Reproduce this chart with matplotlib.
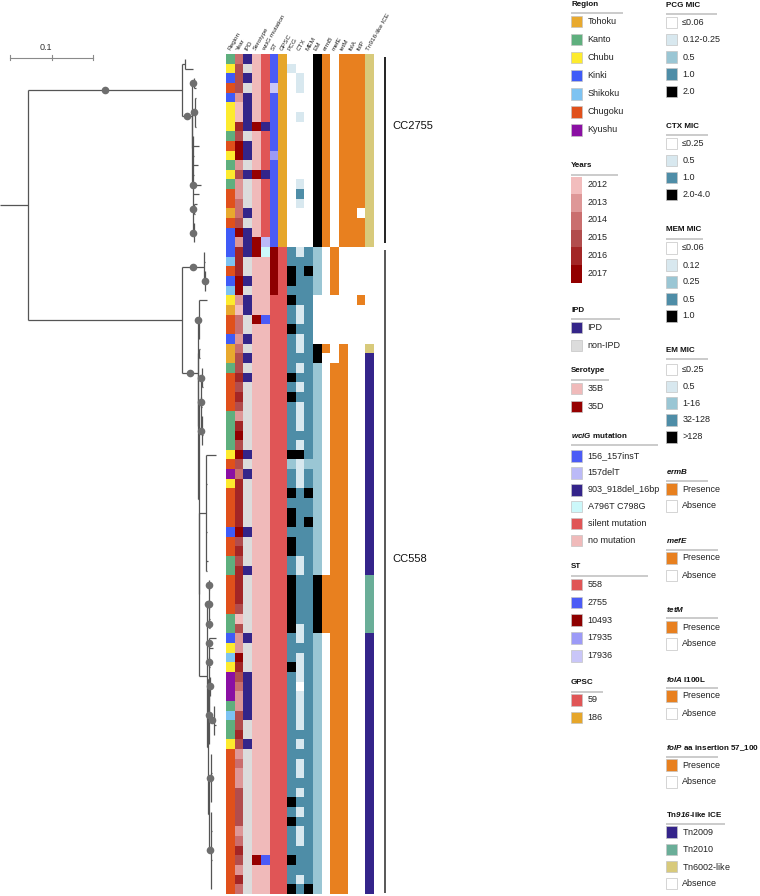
import matplotlib
matplotlib.use('Agg')
import matplotlib.pyplot as plt
import numpy as np
from matplotlib.collections import LineCollection
from matplotlib.patches import Rectangle
from matplotlib.colors import to_rgb

plt.rcParams['font.family'] = ['Liberation Sans', 'DejaVu Sans']
plt.rcParams['mathtext.fontset'] = 'custom'
plt.rcParams['mathtext.rm'] = 'Liberation Sans'
plt.rcParams['mathtext.it'] = 'Liberation Sans:italic'
plt.rcParams['mathtext.bf'] = 'Liberation Sans:bold'
plt.rcParams['mathtext.bfit'] = 'Liberation Sans:italic:bold'

# ---------------- data ----------------
region_labels = ['Tohoku', 'Kanto', 'Chubu', 'Kinki', 'Shikoku', 'Chugoku', 'Kyushu']
region_colors = ['#E8A92E', '#5FAF7E', '#FDEB2E', '#3F5BF7', '#7DC3F2', '#E0501B', '#8A0FA3']
year_labels = ['2012', '2013', '2014', '2015', '2016', '2017']
year_colors = ['#F2BDBD', '#DE9797', '#CA6E6E', '#B24D4D', '#A32626', '#920000']
ipd_labels = ['IPD', 'non-IPD']
ipd_colors = ['#342589', '#DCDCDC']
sero_labels = ['35B', '35D']
sero_colors = ['#F0BABA', '#960000']
wcig_labels = ['156_157insT', '157delT', '903_918del_16bp', 'A796T C798G', 'silent mutation', 'no mutation']
wcig_colors = ['#4B5BF6', '#BBBAF7', '#34248A', '#CCF8FA', '#E05556', '#F0BABA']
st_labels = ['558', '2755', '10493', '17935', '17936']
st_colors = ['#E05556', '#4B5BF6', '#8E0000', '#9C9AF7', '#C9C6F8']
gpsc_labels = ['59', '186']
gpsc_colors = ['#E05556', '#E6A62A']
mic_white, mic_light, mic_mid, mic_dark, mic_black = '#FFFFFF', '#D8E8EF', '#9AC6D4', '#4E8DA7', '#000000'
pcg_labels = ['≤0.06', '0.12-0.25', '0.5', '1.0', '2.0']
pcg_colors = [mic_white, mic_light, mic_mid, mic_dark, mic_black]
ctx_labels = ['≤0.25', '0.5', '1.0', '2.0-4.0']
ctx_colors = [mic_white, mic_light, mic_dark, mic_black]
mem_labels = ['≤0.06', '0.12', '0.25', '0.5', '1.0']
mem_colors = [mic_white, mic_light, mic_mid, mic_dark, mic_black]
em_labels = ['≤0.25', '0.5', '1-16', '32-128', '>128']
em_colors = [mic_white, mic_light, mic_mid, mic_dark, mic_black]
pa_labels = ['Presence', 'Absence']
pa_colors = ['#E8801F', '#FFFFFF']
tn_labels = [r'Tn$\it{2009}$', r'Tn$\it{2010}$', r'Tn$\it{6002}$-like', 'Absence']
tn_colors = ['#34248A', '#6AAE98', '#D8CA7B', '#FFFFFF']

# one value per tip (row), top to bottom; values are legend indices
region = [1, 2, 3, 5, 3, 2, 2, 2, 1, 5, 2, 1, 2, 1, 5, 5, 0, 5, 3, 3,
          3, 4, 5, 3, 4, 2, 0, 5, 5, 3, 0, 0, 1, 5, 5, 5, 5, 1, 1, 1, 1, 2,
          5, 6, 2, 5, 5, 5, 5, 3, 5, 5, 1, 1, 5, 5, 5, 5, 1, 1, 3, 2, 4, 2,
          6, 6, 6, 1, 4, 1, 1, 2, 5, 5, 5, 5, 5, 5, 5, 5, 5, 5, 5, 5, 5, 5, 5]
year = [2, 3, 3, 3, 1, 0, 0, 4, 3, 5, 5, 1, 3, 1, 1, 2, 2, 3, 5, 1,
        4, 4, 4, 5, 5, 1, 0, 2, 2, 1, 2, 3, 3, 4, 3, 4, 3, 1, 4, 5, 3, 5,
        3, 2, 4, 4, 4, 4, 4, 5, 3, 4, 3, 4, 4, 4, 4, 3, 0, 3, 1, 1, 5, 4,
        3, 2, 1, 1, 3, 3, 4, 3, 1, 2, 1, 1, 3, 3, 3, 3, 1, 2, 4, 3, 1, 4, 2]
ipd = [0, 1, 0, 1, 0, 0, 0, 0, 1, 0, 0, 1, 0, 1, 1, 1, 0, 1, 0, 0,
       0, 1, 1, 0, 1, 0, 0, 1, 1, 0, 1, 0, 1, 0, 1, 1, 1, 1, 1, 1, 1, 0,
       1, 0, 1, 1, 1, 1, 1, 0, 1, 1, 1, 0, 1, 1, 1, 1, 1, 1, 0, 1, 1, 1,
       0, 0, 0, 0, 0, 1, 1, 0, 1, 1, 1, 1, 1, 1, 1, 1, 1, 1, 1, 1, 1, 1, 1]
serotype = [0, 0, 0, 0, 0, 0, 0, 1, 0, 0, 0, 0, 1, 0, 0, 0, 0, 0, 0, 1,
            1, 0, 0, 0, 0, 0, 0, 1, 0, 0, 0, 0, 0, 0, 0, 0, 0, 0, 0, 0, 0, 0,
            0, 0, 0, 0, 0, 0, 0, 0, 0, 0, 0, 0, 0, 0, 0, 0, 0, 0, 0, 0, 0, 0,
            0, 0, 0, 0, 0, 0, 0, 0, 0, 0, 0, 0, 0, 0, 0, 0, 0, 0, 0, 1, 0, 0, 0]
wcig = [4, 4, 4, 4, 4, 4, 4, 2, 4, 4, 4, 4, 2, 4, 4, 4, 4, 4, 4, 1,
        3, 5, 5, 5, 5, 5, 5, 0, 5, 5, 5, 5, 5, 5, 5, 5, 5, 5, 5, 5, 5, 5,
        5, 5, 5, 5, 5, 5, 5, 5, 5, 5, 5, 5, 5, 5, 5, 5, 5, 5, 5, 5, 5, 5,
        5, 5, 5, 5, 5, 5, 5, 5, 5, 5, 5, 5, 5, 5, 5, 5, 5, 5, 5, 0, 5, 5, 5]
st = [1, 1, 1, 4, 1, 1, 1, 1, 1, 1, 3, 1, 1, 1, 1, 1, 1, 1, 1, 1,
      2, 2, 2, 2, 2, 0, 0, 0, 0, 0, 0, 0, 0, 0, 0, 0, 0, 0, 0, 0, 0, 0,
      0, 0, 0, 0, 0, 0, 0, 0, 0, 0, 0, 0, 0, 0, 0, 0, 0, 0, 0, 0, 0, 0,
      0, 0, 0, 0, 0, 0, 0, 0, 0, 0, 0, 0, 0, 0, 0, 0, 0, 0, 0, 0, 0, 0, 0]
gpsc = [1, 1, 1, 1, 1, 1, 1, 1, 1, 1, 1, 1, 1, 1, 1, 1, 1, 1, 1, 1,
        0, 0, 0, 0, 0, 0, 0, 0, 0, 0, 0, 0, 0, 0, 0, 0, 0, 0, 0, 0, 0, 0,
        0, 0, 0, 0, 0, 0, 0, 0, 0, 0, 0, 0, 0, 0, 0, 0, 0, 0, 0, 0, 0, 0,
        0, 0, 0, 0, 0, 0, 0, 0, 0, 0, 0, 0, 0, 0, 0, 0, 0, 0, 0, 0, 0, 0, 0]
pcg = [0, 1, 0, 0, 0, 0, 0, 0, 0, 0, 0, 0, 0, 0, 0, 0, 0, 0, 0, 0,
       3, 3, 4, 4, 3, 4, 3, 3, 4, 3, 3, 3, 3, 4, 3, 4, 3, 3, 3, 3, 3, 4,
       2, 3, 3, 4, 3, 4, 4, 3, 4, 4, 3, 3, 4, 4, 4, 4, 4, 4, 3, 3, 3, 4,
       3, 3, 3, 3, 3, 3, 3, 3, 3, 3, 3, 3, 3, 4, 3, 4, 3, 3, 3, 4, 3, 3, 4]
ctx = [0, 0, 1, 1, 0, 0, 1, 0, 0, 0, 0, 0, 0, 1, 2, 1, 0, 0, 0, 0,
       1, 2, 2, 2, 2, 2, 1, 1, 2, 1, 1, 2, 1, 2, 1, 2, 1, 1, 1, 2, 1, 3,
       1, 1, 1, 2, 2, 2, 2, 2, 2, 2, 1, 1, 2, 2, 2, 2, 2, 1, 1, 2, 1, 1,
       1, 0, 1, 1, 1, 1, 2, 1, 2, 1, 1, 2, 1, 2, 1, 2, 1, 1, 2, 2, 2, 1, 2]
mem = [0, 0, 0, 0, 0, 0, 0, 0, 0, 0, 0, 0, 0, 0, 0, 0, 0, 0, 0, 0,
       3, 3, 4, 3, 3, 3, 3, 3, 3, 3, 3, 3, 3, 3, 3, 3, 3, 3, 3, 3, 3, 3,
       2, 3, 3, 4, 3, 3, 4, 3, 3, 3, 3, 3, 3, 3, 3, 3, 3, 3, 3, 3, 3, 3,
       3, 3, 3, 3, 3, 3, 3, 3, 3, 3, 3, 3, 3, 3, 3, 3, 3, 3, 3, 3, 3, 3, 4]
em = [4, 4, 4, 4, 4, 4, 4, 4, 4, 4, 4, 4, 4, 4, 4, 4, 4, 4, 4, 4,
      2, 2, 2, 2, 2, 0, 0, 0, 0, 0, 4, 4, 2, 2, 2, 2, 2, 2, 2, 2, 2, 2,
      2, 2, 2, 2, 2, 2, 2, 2, 2, 2, 2, 2, 4, 4, 4, 4, 4, 4, 2, 2, 2, 2,
      2, 2, 2, 2, 2, 2, 2, 2, 2, 2, 2, 2, 2, 2, 2, 2, 2, 2, 2, 2, 2, 2, 2]
# 0 = Presence, 1 = Absence
ermB = [0, 0, 0, 0, 0, 0, 0, 0, 0, 0, 0, 0, 0, 0, 0, 0, 0, 0, 0, 0,
        1, 1, 1, 1, 1, 1, 1, 1, 1, 1, 0, 1, 1, 1, 1, 1, 1, 1, 1, 1, 1, 1,
        1, 1, 1, 1, 1, 1, 1, 1, 1, 1, 1, 1, 0, 0, 0, 0, 0, 0, 1, 1, 1, 1,
        1, 1, 1, 1, 1, 1, 1, 1, 1, 1, 1, 1, 1, 1, 1, 1, 1, 1, 1, 1, 1, 1, 1]
mefE = [1, 1, 1, 1, 1, 1, 1, 1, 1, 1, 1, 1, 1, 1, 1, 1, 1, 1, 1, 1,
        0, 0, 0, 0, 0, 1, 1, 1, 1, 1, 1, 1, 0, 0, 0, 0, 0, 0, 0, 0, 0, 0,
        0, 0, 0, 0, 0, 0, 0, 0, 0, 0, 0, 0, 0, 0, 0, 0, 0, 0, 0, 0, 0, 0,
        0, 0, 0, 0, 0, 0, 0, 0, 0, 0, 0, 0, 0, 0, 0, 0, 0, 0, 0, 0, 0, 0, 0]
tetM = [0, 0, 0, 0, 0, 0, 0, 0, 0, 0, 0, 0, 0, 0, 0, 0, 0, 0, 0, 0,
        1, 1, 1, 1, 1, 1, 1, 1, 1, 1, 0, 0, 0, 0, 0, 0, 0, 0, 0, 0, 0, 0,
        0, 0, 0, 0, 0, 0, 0, 0, 0, 0, 0, 0, 0, 0, 0, 0, 0, 0, 0, 0, 0, 0,
        0, 0, 0, 0, 0, 0, 0, 0, 0, 0, 0, 0, 0, 0, 0, 0, 0, 0, 0, 0, 0, 0, 0]
folA = [0, 0, 0, 0, 0, 0, 0, 0, 0, 0, 0, 0, 0, 0, 0, 0, 0, 0, 0, 0,
        1, 1, 1, 1, 1, 1, 1, 1, 1, 1, 1, 1, 1, 1, 1, 1, 1, 1, 1, 1, 1, 1,
        1, 1, 1, 1, 1, 1, 1, 1, 1, 1, 1, 1, 1, 1, 1, 1, 1, 1, 1, 1, 1, 1,
        1, 1, 1, 1, 1, 1, 1, 1, 1, 1, 1, 1, 1, 1, 1, 1, 1, 1, 1, 1, 1, 1, 1]
folP = [0, 0, 0, 0, 0, 0, 0, 0, 0, 0, 0, 0, 0, 0, 0, 0, 1, 0, 0, 0,
        1, 1, 1, 1, 1, 0, 1, 1, 1, 1, 1, 1, 1, 1, 1, 1, 1, 1, 1, 1, 1, 1,
        1, 1, 1, 1, 1, 1, 1, 1, 1, 1, 1, 1, 1, 1, 1, 1, 1, 1, 1, 1, 1, 1,
        1, 1, 1, 1, 1, 1, 1, 1, 1, 1, 1, 1, 1, 1, 1, 1, 1, 1, 1, 1, 1, 1, 1]
tn916 = [2, 2, 2, 2, 2, 2, 2, 2, 2, 2, 2, 2, 2, 2, 2, 2, 2, 2, 2, 2,
         3, 3, 3, 3, 3, 3, 3, 3, 3, 3, 2, 0, 0, 0, 0, 0, 0, 0, 0, 0, 0, 0,
         0, 0, 0, 0, 0, 0, 0, 0, 0, 0, 0, 0, 1, 1, 1, 1, 1, 1, 0, 0, 0, 0,
         0, 0, 0, 0, 0, 0, 0, 0, 0, 0, 0, 0, 0, 0, 0, 0, 0, 0, 0, 0, 0, 0, 0]

column_names = ['Region', 'Year', 'IPD', 'Serotype', 'wciG mutation', 'ST', 'GPSC', 'PCG', 'CTX',
                'MEM', 'EM', 'ermB', 'mefE', 'tetM', 'folA', 'folP', 'Tn916-like ICE']

# Tree (Newick, tips t<row>; '*' marks a supported branch)
nw_cc2755 = ("((t0:0,t1:0.0096):0.0036,((t2:0.001,t3:0.003)*:0.002,((t4:0.001,t5:0,t6:0,t7:0.002)*:0.003,"
             "(t8:0,t9:0.008,t10:0.002,t11:0.006,t12:0.002,t13:0.01,t14:0.007,(t15:0.004,t16:0.002)*:0.001,"
             "(t17:0.001,t18:0,t19:0)*:0.001)*:0.0005):0.0005)*:0.012)*:0.1855")
nw_b1 = "(t20:0,t21:0.001,(t22:0,t23:0.001,t24:0)*:0.001)*:0.027"
nw_b2 = "(t25:0.01,t26:0.001,t27:0,t28:0,t29:0.001)*:0.001"
nw_h = "(t30:0.001,t31:0.001):0.001"
nw_j = "((t32:0,t33:0,t34:0.001)*:0.001,(t35:0,t36:0.001)*:0.0005,(t37:0,t38:0,t39:0.001,t40:0)*:0.001):0.003"
nw_l = "(t41:0.012,t42:0,t43:0,t44:0.001,t45:0,t46:0,t47:0,t48:0,t49:0.001,t50:0,t51:0,t52:0.002,t53:0.001):0.008"
nw_m = "((t54:0,t55:0)*:0.001,(t56:0,t57:0)*:0.001,(t58:0.001,t59:0.001)*:0.001)*:0.002"
nw_o = ("((t60:0.008,t61:0.004)*:0.001,(t62:0,t63:0.001)*:0.001,((t64:0,t65:0,t66:0)*:0.001,"
        "(t67:0,t68:0,t69:0.002,t70:0)*:0.006,t71:0)*:0.001):0.001")
nw_p = ("((t72:0,t73:0,t74:0.001,t75:0,t76:0,t77:0)*:0.002,"
        "(t78:0,t79:0,t80:0.001,t81:0,t82:0,t83:0.001,t84:0,t85:0,t86:0)*:0.002):0.002")
nw_cc558 = ("(" + nw_b1 + ",(" + nw_b2 + ",(" + nw_h + ",(" + nw_j + ",(" + nw_l + ",(" + nw_m +
            ",(" + nw_o + "," + nw_p + "):0.001):0.009):0.001):0.0005):0.0005)*:0.019):0.1855")
newick = "(" + nw_cc2755 + "," + nw_cc558 + "):0.034;"

clades = [('CC2755', 0, 19), ('CC558', 20, 86)]

# ---------------- layout helpers (pixels) ----------------
W, H = 760, 896
ROW_TOP, ROW_H = 54.3, 9.65
N = len(region)
HEAT_L, HEAT_R = 226.0, 373.3
PX_PER_UNIT = 830.0   # tree: pixels per substitution/site
ROOT_PX = 28.0


def rect(x0, y0, x1, y1):
    return [x0 / W, 1 - y1 / H, (x1 - x0) / W, (y1 - y0) / H]


def py2row(py):
    return (py - ROW_TOP) / ROW_H - 0.5


fig = plt.figure(figsize=(W / 100, H / 100), dpi=100)
bottom = ROW_TOP + N * ROW_H

# ---------------- tree ----------------
def parse_newick(s):
    s = s.strip().rstrip(';')
    pos = [0]

    def node():
        nd = {'children': [], 'name': '', 'len': 0.0}
        if s[pos[0]] == '(':
            pos[0] += 1
            while True:
                nd['children'].append(node())
                ch = s[pos[0]]
                pos[0] += 1
                if ch == ')':
                    break
        start = pos[0]
        while pos[0] < len(s) and s[pos[0]] not in ':,()':
            pos[0] += 1
        nd['name'] = s[start:pos[0]]
        if pos[0] < len(s) and s[pos[0]] == ':':
            pos[0] += 1
            start = pos[0]
            while pos[0] < len(s) and s[pos[0]] not in ',()':
                pos[0] += 1
            nd['len'] = float(s[start:pos[0]])
        return nd
    return node()


def assign(nd, x):
    nd['x'] = x
    if nd['children']:
        for c in nd['children']:
            assign(c, x + c['len'])
        nd['y'] = (nd['children'][0]['y'] + nd['children'][-1]['y']) / 2
    else:
        nd['y'] = float(nd['name'][1:])


root = parse_newick(newick)
assign(root, 0.0)
segs, dots = [], []
segs.append([(-root['len'], root['y']), (0.0, root['y'])])


def collect(nd):
    if not nd['children']:
        return
    segs.append([(nd['x'], nd['children'][0]['y']), (nd['x'], nd['children'][-1]['y'])])
    for c in nd['children']:
        segs.append([(nd['x'], c['y']), (c['x'], c['y'])])
        if c['name'] == '*':
            dots.append(((nd['x'] + c['x']) / 2, c['y']))
        collect(c)


collect(root)

ax_tree = fig.add_axes(rect(0, ROW_TOP, HEAT_L, bottom))
ax_tree.set_xlim(-ROOT_PX / PX_PER_UNIT, (HEAT_L - ROOT_PX) / PX_PER_UNIT)
ax_tree.set_ylim(N - 0.5, -0.5)
ax_tree.axis('off')
ax_tree.add_collection(LineCollection(segs, colors='#555555', linewidths=0.9, capstyle='butt'))
dx, dy = zip(*dots)
ax_tree.plot(dx, dy, 'o', color='#6E6E6E', markersize=5.5, markeredgewidth=0, zorder=3)

# scale bar 0.1
sb_x0 = (10 - ROOT_PX) / PX_PER_UNIT
sb_len = 0.1
sb_y = py2row(57.7)
tick = 0.28
ax_tree.plot([sb_x0, sb_x0 + sb_len], [sb_y, sb_y], color='#8A8A8A', lw=0.8, clip_on=False)
for t in (sb_x0, sb_x0 + sb_len / 2, sb_x0 + sb_len):
    ax_tree.plot([t, t], [sb_y - tick, sb_y + tick], color='#8A8A8A', lw=0.8, clip_on=False)
ax_tree.text(sb_x0 + sb_len * 0.43, py2row(47.7), '0.1', fontsize=6.5, ha='center', va='center',
             color='#333333', clip_on=False)

# ---------------- heatmap ----------------
columns = [(region, region_colors), (year, year_colors), (ipd, ipd_colors), (serotype, sero_colors),
           (wcig, wcig_colors), (st, st_colors), (gpsc, gpsc_colors), (pcg, pcg_colors),
           (ctx, ctx_colors), (mem, mem_colors), (em, em_colors), (ermB, pa_colors),
           (mefE, pa_colors), (tetM, pa_colors), (folA, pa_colors), (folP, pa_colors),
           (tn916, tn_colors)]
img = np.ones((N, len(columns), 3))
for j, (vals, cols) in enumerate(columns):
    for i, v in enumerate(vals):
        img[i, j] = to_rgb(cols[v])

ax_heat = fig.add_axes(rect(HEAT_L, ROW_TOP, HEAT_R, bottom))
ax_heat.imshow(img, aspect='auto', interpolation='nearest',
               extent=(-0.5, len(columns) - 0.5, N - 0.5, -0.5))
ax_heat.set_xlim(-0.5, len(columns) - 0.5)
ax_heat.set_ylim(N - 0.5, -0.5)
ax_heat.axis('off')
col_w = (HEAT_R - HEAT_L) / len(columns)
for j, name in enumerate(column_names):
    ax_heat.text(j - 0.15, py2row(50.0), name, rotation=60, rotation_mode='anchor',
                 ha='left', va='center', fontsize=4.6, color='#222222', clip_on=False)

# clade bars and labels
bar_x = -0.5 + (384.5 - HEAT_L) / col_w
lab_x = -0.5 + (392.0 - HEAT_L) / col_w
bar_ext = [(56.7, 243.0), (250.0, 893.0)]
lab_y = [126.0, 559.0]
bar_col = ['#111111', '#4A4A4A']
for k, (name, r0, r1) in enumerate(clades):
    ax_heat.plot([bar_x, bar_x], [py2row(bar_ext[k][0]), py2row(bar_ext[k][1])],
                 color=bar_col[k], lw=1.3, clip_on=False, solid_capstyle='butt')
    ax_heat.text(lab_x, py2row(lab_y[k]), name, fontsize=8, ha='left', va='center',
                 color='#111111', clip_on=False)

# ---------------- legends ----------------
ax_leg = fig.add_axes([0, 0, 1, 1], zorder=-1)
ax_leg.set_xlim(0, W)
ax_leg.set_ylim(H, 0)
ax_leg.axis('off')

SW = 11.3
TFS = 5.8


def legend_block(x0, title, title_y, ul_y, ul_x1, labels, colors, y0, step):
    ax_leg.text(x0, title_y, title, fontsize=TFS, fontweight='bold', ha='left', va='center',
                color='#111111')
    ax_leg.plot([x0, ul_x1], [ul_y, ul_y], color='#C2C2C2', lw=1.2, solid_capstyle='butt')
    for i, (lab, col) in enumerate(zip(labels, colors)):
        yc = y0 + i * step
        ax_leg.add_patch(Rectangle((x0, yc - SW / 2), SW, SW, facecolor=col,
                                   edgecolor='#C4C4C4', lw=0.5))
        ax_leg.text(x0 + 16.5, yc, lab, fontsize=6.5, ha='left', va='center', color='#222222')


LX, RX = 571.0, 665.7
legend_block(LX, 'Region', 4.5, 12.7, 623, region_labels, region_colors, 21.7, 18.05)
# Years: contiguous colour blocks
ax_leg.text(LX, 165.7, 'Years', fontsize=TFS, fontweight='bold', ha='left', va='center', color='#111111')
ax_leg.plot([LX, 618], [175, 175], color='#C2C2C2', lw=1.2, solid_capstyle='butt')
yb0, ybh = 176.7, 17.7
for i, (lab, col) in enumerate(zip(year_labels, year_colors)):
    ax_leg.add_patch(Rectangle((LX, yb0 + i * ybh), SW, ybh, facecolor=col, edgecolor='none'))
    ax_leg.text(LX + 16.5, yb0 + i * ybh + ybh / 2 - 1, lab, fontsize=6.5, ha='left', va='center',
                color='#222222')
legend_block(LX, 'IPD', 310.0, 319.0, 620, ipd_labels, ipd_colors, 327.7, 18.0)
legend_block(LX, 'Serotype', 370.7, 380.0, 609, sero_labels, sero_colors, 388.7, 18.0)
legend_block(LX, r'$\mathbfit{wciG}$ mutation', 435.3, 445.0, 658, wcig_labels, wcig_colors, 456.0, 16.95)
legend_block(LX, 'ST', 566.0, 575.7, 648, st_labels, st_colors, 584.3, 17.9)
legend_block(LX, 'GPSC', 682.7, 691.7, 603, gpsc_labels, gpsc_colors, 700.0, 17.3)

legend_block(RX, 'PCG MIC', 5.3, 14.0, 717, pcg_labels, pcg_colors, 22.7, 17.15)
legend_block(RX, 'CTX MIC', 126.3, 134.7, 708, ctx_labels, ctx_colors, 143.7, 16.9)
legend_block(RX, 'MEM MIC', 229.3, 238.7, 703, mem_labels, mem_colors, 248.0, 17.0)
legend_block(RX, 'EM MIC', 350.7, 359.3, 708, em_labels, em_colors, 369.3, 16.9)
legend_block(RX, r'$\mathbfit{ermB}$', 471.7, 480.7, 708, pa_labels, pa_colors, 489.0, 17.0)
legend_block(RX, r'$\mathbfit{mefE}$', 540.7, 549.7, 718, pa_labels, pa_colors, 558.0, 17.3)
legend_block(RX, r'$\mathbfit{tetM}$', 609.3, 618.0, 718, pa_labels, pa_colors, 627.0, 17.0)
legend_block(RX, r'$\mathbfit{folA}$ I100L', 679.0, 688.0, 718, pa_labels, pa_colors, 696.0, 17.7)
legend_block(RX, r'$\mathbfit{folP}$ aa insertion 57_100', 748.3, 757.0, 718, pa_labels, pa_colors, 765.0, 17.0)
legend_block(RX, r'Tn$\mathbfit{916}$-like ICE', 814.7, 823.7, 725, tn_labels, tn_colors, 832.0, 17.2)

fig.savefig('out.png', dpi=100)
